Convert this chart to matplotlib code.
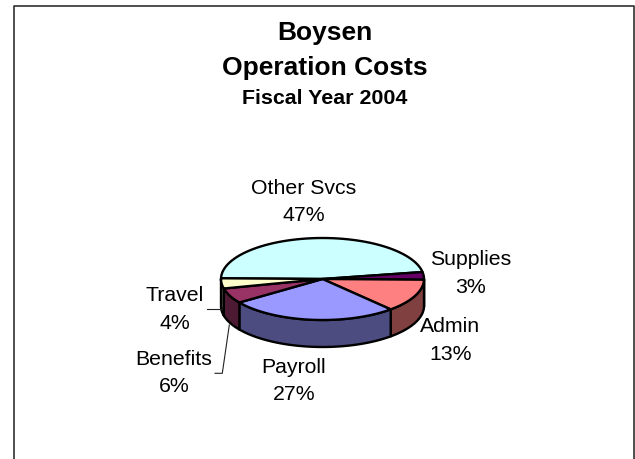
import numpy as np
import matplotlib
matplotlib.use('Agg')
import matplotlib.pyplot as plt
from matplotlib.patches import Polygon

plt.rcParams['font.family'] = ['Liberation Sans', 'DejaVu Sans']

names = ['Other Svcs', 'Supplies', 'Admin', 'Payroll', 'Benefits', 'Travel']
shares = [47, 3, 13, 27, 6, 4]
top_colors = ['#CCFFFF', '#660066', '#FF8080', '#9999FF', '#993366', '#FFFFCC']
side_colors = ['#667F7F', '#330033', '#804040', '#4C4C80', '#4C1A33', '#7F7F66']
label_pos = [(303.5, 202), (471, 273.5), (450.5, 340.5), (294, 381), (174, 373), (175, 309.5)]

cx, cy, rx, ry, depth = 322.5, 279, 101.5, 41, 27
start = 179.0
lw = 1.7


def rim(a0, a1, n=60):
    t = np.radians(np.linspace(a0, a1, n))
    return np.column_stack([cx + rx * np.cos(t), cy - ry * np.sin(t)])


fig = plt.figure(figsize=(6.35, 4.59), dpi=100)
ax = fig.add_axes([0, 0, 1, 1])
ax.set_xlim(0, 635)
ax.set_ylim(459, 0)
ax.axis('off')

# frame, open at the bottom of the image
ax.plot([13.5, 13.5, 634, 634], [459, 5.5, 5.5, 459], color='#303030', lw=1.2, clip_on=False)

angle = start
edges = []
for share in shares:
    edges.append((angle, angle - share * 3.6))
    angle -= share * 3.6

# side walls first, only the part below the middle of the ellipse shows
for (a0, a1), col in zip(edges, side_colors):
    lo, hi = max(a1, -180), min(a0, 0)
    if hi <= lo:
        continue
    pts = rim(hi, lo)
    wall = np.vstack([pts, pts[::-1] + [0, depth]])
    ax.add_patch(Polygon(wall, closed=True, fc=col, ec='black', lw=lw, joinstyle='round'))

# top face
for (a0, a1), col in zip(edges, top_colors):
    pts = np.vstack([[cx, cy], rim(a0, a1)])
    ax.add_patch(Polygon(pts, closed=True, fc=col, ec='black', lw=lw, joinstyle='round'))

# leader lines
ax.plot([207, 222], [308.7, 308.7], color='#222222', lw=0.8)
ax.plot([215, 222.3, 229.3], [373.3, 373.3, 325], color='#222222', lw=0.8)

ax.text(325, 33, 'Boysen', ha='center', va='center', fontsize=19, fontweight='bold')
ax.text(325, 67.5, 'Operation Costs', ha='center', va='center', fontsize=19, fontweight='bold')
ax.text(325, 98, 'Fiscal Year 2004', ha='center', va='center', fontsize=15.4, fontweight='bold')

for name, share, (x, y) in zip(names, shares, label_pos):
    ax.text(x, y, f'{name}\n{share}%', ha='center', va='center', fontsize=15.3, linespacing=1.57)

fig.savefig('out.png', dpi=100)
